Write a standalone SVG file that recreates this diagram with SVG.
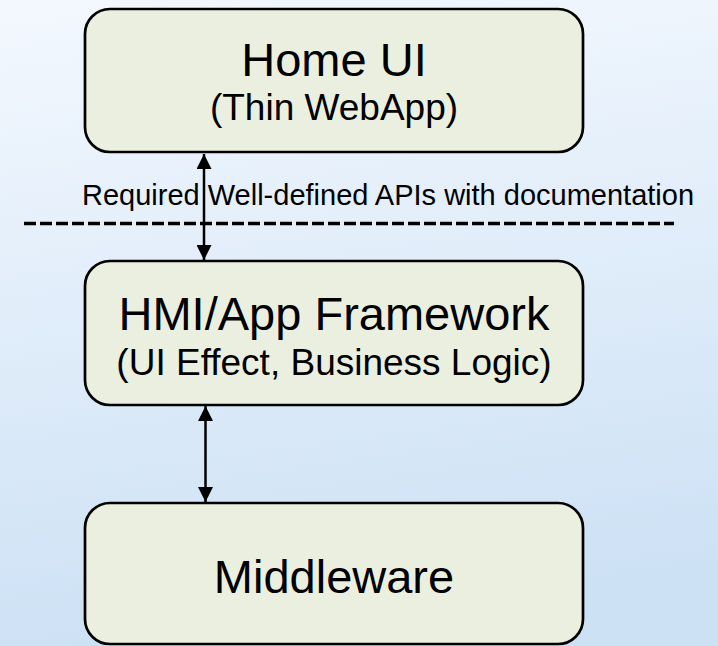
<svg xmlns="http://www.w3.org/2000/svg" width="718" height="646" viewBox="0 0 718 646">
  <defs>
    <linearGradient id="bg" x1="0" y1="0" x2="0.15" y2="1">
      <stop offset="0" stop-color="#f3f8fe"/>
      <stop offset="1" stop-color="#cde1f5"/>
    </linearGradient>
    <marker id="ah" viewBox="0 0 10 10" refX="10" refY="5" markerWidth="6.5" markerHeight="6" markerUnits="strokeWidth" orient="auto-start-reverse">
      <path d="M0,0 L10,5 L0,10 Z" fill="#000"/>
    </marker>
    <style>
      .box { fill: #ebefdf; stroke: #000; stroke-width: 2.7; }
      .title { font-family: "Liberation Sans", Arial, sans-serif; font-size: 47px; fill: #000; text-anchor: middle; }
      .sub { font-family: "Liberation Sans", Arial, sans-serif; font-size: 37px; fill: #000; text-anchor: middle; }
      .lbl { font-family: "Liberation Sans", Arial, sans-serif; font-size: 29px; fill: #000; }
      .conn { stroke: #000; stroke-width: 2.5; fill: none; }
    </style>
  </defs>
  <rect x="0" y="0" width="718" height="646" fill="url(#bg)"/>

  <g id="home-ui">
    <rect class="box" x="85" y="9" width="498" height="143" rx="25" ry="25"/>
    <text class="title" x="334" y="76">Home UI</text>
    <text class="sub" x="334" y="120">(Thin WebApp)</text>
  </g>

  <g id="hmi-framework">
    <rect class="box" x="85" y="261" width="498" height="144" rx="25" ry="25"/>
    <text class="title" x="334" y="330">HMI/App Framework</text>
    <text class="sub" x="334" y="375">(UI Effect, Business Logic)</text>
  </g>

  <g id="middleware">
    <rect class="box" x="85" y="503" width="498" height="141" rx="25" ry="25"/>
    <text class="title" x="334" y="593">Middleware</text>
  </g>

  <g id="api-boundary">
    <text class="lbl" x="82" y="205">Required Well-defined APIs with documentation</text>
    <line x1="24" y1="223.5" x2="674" y2="223.5" stroke="#000" stroke-width="3.5" stroke-dasharray="12 4"/>
  </g>

  <g id="connectors">
    <line class="conn" x1="204" y1="154" x2="204" y2="260" marker-start="url(#ah)" marker-end="url(#ah)"/>
    <line class="conn" x1="205.5" y1="406" x2="205.5" y2="502" marker-start="url(#ah)" marker-end="url(#ah)"/>
  </g>
</svg>
